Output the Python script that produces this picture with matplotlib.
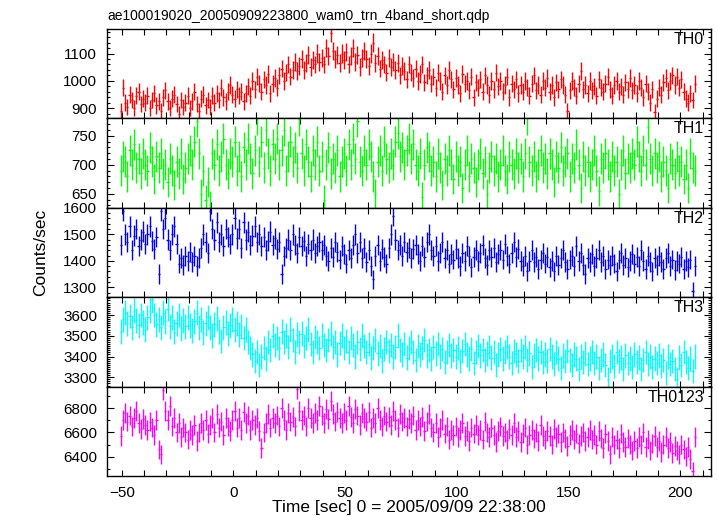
import numpy as np
import matplotlib
matplotlib.use('Agg')
import matplotlib.pyplot as plt
from matplotlib.ticker import MultipleLocator

plt.rcParams['font.family'] = ['Liberation Sans', 'DejaVu Sans']

title = 'ae100019020_20050909223800_wam0_trn_4band_short.qdp'
bands = ['TH0', 'TH1', 'TH2', 'TH3', 'TH0123']
colors = ['#ff0000', '#00ff00', '#0000ff', '#00ffff', '#ff00ff']

# 1 s bins, first bin centred at -50.5 s
t_start = -50.5
bin_width = 1.0

th0 = [
    890, 975, 920, 905, 950, 930, 900, 945, 960, 915,
    935, 920, 945, 900, 930, 955, 910, 925, 890, 940,
    965, 925, 900, 935, 950, 915, 880, 930, 905, 920,
    945, 900, 925, 960, 915, 890, 935, 950, 910, 930,
    905, 945, 920, 955, 930, 975, 940, 925, 960, 985,
    950, 935, 970, 945, 960, 925, 955, 980, 945, 1000,
    970, 1015, 990, 960, 1005, 985, 1025, 955, 990, 1010,
    975, 1020, 1045, 1000, 1030, 1060, 1015, 1040, 1070, 1035,
    1055, 1080, 1040, 1065, 1095, 1050, 1075, 1060, 1100, 1070,
    1085, 1060, 1120, 1090, 1175, 1110, 1080, 1095, 1065, 1100,
    1075, 1105, 1060, 1090, 1120, 1070, 1095, 1050, 1085, 1110,
    1080, 1055, 1100, 1140, 1065, 1090, 1045, 1075, 1060, 1030,
    1085, 1050, 1070, 1040, 1065, 1020, 1055, 1035, 1005, 1060,
    1030, 1010, 1045, 1000, 1025, 1060, 995, 1020, 1040, 990,
    1015, 975, 1030, 1000, 960, 1020, 985, 1040, 1005, 970,
    1010, 985, 955, 1025, 990, 1000, 965, 1015, 940, 995,
    975, 1005, 960, 1020, 985, 950, 1000, 970, 1030, 980,
    1000, 960, 985, 1015, 940, 990, 970, 1005, 955, 985,
    960, 1000, 975, 945, 990, 1020, 965, 985, 950, 1000,
    975, 1010, 960, 985, 940, 995, 970, 1005, 985, 950,
    890, 965, 1000, 975, 945, 990, 1035, 970, 985, 955,
    1000, 965, 980, 945, 1005, 975, 960, 990, 1015, 970,
    945, 985, 1000, 960, 980, 950, 995, 970, 1010, 965,
    985, 955, 1000, 975, 940, 990, 960, 920, 970, 885,
    935, 975, 950, 995, 1010, 965, 1000, 1020, 985, 1015,
    975, 1005, 960, 935, 920, 955, 930, 990,
]

th1 = [
    690, 715, 705, 680, 725, 700, 735, 695, 710, 685,
    720, 700, 690, 730, 705, 675, 715, 695, 720, 685,
    700, 670, 710, 690, 665, 705, 685, 720, 675, 695,
    710, 725, 700, 740, 775, 720, 650, 690, 640, 670,
    630, 720, 700, 735, 690, 715, 745, 700, 685, 720,
    705, 740, 690, 715, 680, 730, 700, 745, 710, 685,
    725, 780, 705, 740, 695, 760, 720, 690, 735, 710,
    745, 700, 725, 760, 690, 715, 740, 705, 730, 695,
    778, 720, 690, 735, 705, 680, 725, 700, 740, 690,
    715, 640, 700, 730, 685, 710, 695, 725, 680, 705,
    720, 690, 735, 700, 745, 710, 775, 705, 690, 725,
    700, 735, 715, 680, 650, 705, 725, 690, 740, 710,
    695, 720, 700, 740, 755, 715, 730, 700, 725, 745,
    710, 735, 700, 690, 720, 645, 700, 730, 715, 690,
    705, 680, 720, 695, 665, 710, 690, 725, 700, 675,
    715, 690, 705, 660, 700, 725, 680, 710, 695, 670,
    700, 720, 685, 705, 650, 695, 715, 690, 710, 680,
    700, 725, 690, 675, 715, 700, 685, 720, 695, 710,
    680, 720, 780, 705, 690, 715, 680, 700, 725, 695,
    710, 685, 720, 700, 670, 715, 695, 730, 690, 705,
    720, 680, 710, 695, 735, 700, 660, 715, 690, 705,
    680, 700, 725, 690, 655, 710, 695, 720, 700, 680,
    715, 690, 705, 650, 700, 725, 685, 710, 695, 720,
    700, 740, 715, 690, 725, 700, 765, 710, 690, 720,
    695, 715, 680, 705, 690, 660, 710, 700, 685, 715,
    690, 705, 675, 700, 660, 720, 695, 690,
]

th2 = [
    1460, 1590, 1500, 1470, 1530, 1440, 1495, 1520, 1455, 1480,
    1510, 1465, 1500, 1530, 1475, 1445, 1490, 1350, 1590, 1520,
    1560, 1480, 1440, 1500, 1530, 1465, 1390, 1410, 1385, 1420,
    1400, 1435, 1395, 1420, 1380, 1410, 1450, 1500, 1470, 1430,
    1590, 1520, 1480, 1545, 1470, 1500, 1455, 1520, 1490, 1465,
    1500, 1560, 1485, 1520, 1450, 1545, 1480, 1510, 1460, 1495,
    1530, 1470, 1500, 1455, 1490, 1440, 1475, 1510, 1460, 1485,
    1445, 1470, 1350, 1420, 1450, 1480, 1440, 1500, 1460, 1430,
    1490, 1455, 1475, 1420, 1465, 1440, 1480, 1430, 1455, 1470,
    1440, 1460, 1420, 1400, 1450, 1415, 1470, 1435, 1405, 1455,
    1425, 1390, 1440, 1410, 1460, 1500, 1430, 1470, 1410, 1450,
    1395, 1440, 1380, 1330, 1420, 1460, 1400, 1445, 1415, 1390,
    1450, 1500, 1570, 1480, 1440, 1460, 1420, 1470, 1435, 1450,
    1410, 1445, 1460, 1425, 1400, 1455, 1415, 1470, 1500, 1440,
    1420, 1455, 1400, 1430, 1470, 1410, 1440, 1390, 1425, 1405,
    1445, 1410, 1380, 1430, 1400, 1455, 1420, 1375, 1415, 1440,
    1400, 1430, 1460, 1410, 1385, 1440, 1415, 1450, 1395, 1425,
    1440, 1405, 1465, 1420, 1390, 1430, 1470, 1415, 1445, 1400,
    1380, 1420, 1360, 1400, 1440, 1395, 1415, 1370, 1405, 1430,
    1390, 1415, 1375, 1400, 1360, 1420, 1385, 1410, 1440, 1395,
    1370, 1405, 1420, 1380, 1455, 1400, 1430, 1385, 1350, 1410,
    1395, 1425, 1380, 1410, 1440, 1395, 1420, 1370, 1405, 1385,
    1420, 1390, 1360, 1405, 1430, 1385, 1410, 1375, 1400, 1425,
    1390, 1415, 1380, 1440, 1400, 1370, 1420, 1395, 1360, 1410,
    1385, 1420, 1395, 1370, 1410, 1430, 1380, 1405, 1365, 1400,
    1390, 1415, 1370, 1400, 1375, 1405, 1285, 1380,
]

th3 = [
    3520, 3580, 3610, 3560, 3595, 3540, 3620, 3575, 3550, 3600,
    3565, 3530, 3590, 3620, 3670, 3600, 3555, 3580, 3540, 3610,
    3570, 3630, 3545, 3590, 3520, 3560, 3600, 3535, 3575, 3545,
    3590, 3550, 3525, 3570, 3610, 3540, 3580, 3515, 3560, 3590,
    3540, 3500, 3555, 3585, 3520, 3475, 3540, 3565, 3510, 3550,
    3580, 3530, 3560, 3505, 3545, 3490, 3530, 3470, 3440, 3410,
    3380, 3420, 3360, 3400, 3440, 3390, 3470, 3430, 3500, 3455,
    3490, 3440, 3520, 3470, 3500, 3445, 3530, 3480, 3420, 3505,
    3470, 3510, 3450, 3490, 3530, 3460, 3420, 3495, 3470, 3440,
    3500, 3455, 3430, 3480, 3510, 3445, 3470, 3410, 3465, 3500,
    3440, 3475, 3420, 3490, 3455, 3400, 3470, 3435, 3500, 3450,
    3420, 3460, 3395, 3440, 3480, 3415, 3450, 3380, 3435, 3470,
    3425, 3455, 3400, 3445, 3500, 3430, 3410, 3460, 3395, 3440,
    3470, 3420, 3385, 3450, 3410, 3440, 3480, 3405, 3430, 3390,
    3445, 3415, 3460, 3400, 3435, 3375, 3420, 3455, 3405, 3430,
    3400, 3440, 3380, 3425, 3460, 3410, 3390, 3435, 3370, 3420,
    3450, 3405, 3430, 3385, 3415, 3445, 3395, 3420, 3360, 3410,
    3435, 3390, 3420, 3445, 3400, 3370, 3425, 3410, 3380, 3430,
    3400, 3445, 3385, 3415, 3350, 3405, 3430, 3390, 3420, 3375,
    3410, 3380, 3435, 3400, 3365, 3420, 3390, 3345, 3405, 3380,
    3425, 3385, 3360, 3410, 3390, 3340, 3400, 3375, 3415, 3365,
    3390, 3420, 3370, 3400, 3345, 3385, 3410, 3360, 3290, 3380,
    3400, 3355, 3420, 3380, 3395, 3340, 3405, 3370, 3390, 3350,
    3410, 3375, 3395, 3340, 3385, 3420, 3365, 3400, 3350, 3390,
    3370, 3405, 3355, 3385, 3320, 3400, 3365, 3380, 3340, 3290,
    3395, 3360, 3420, 3375, 3345, 3390, 3330, 3400,
]

th0123 = [
    6570, 6700, 6760, 6690, 6740, 6650, 6720, 6780, 6680, 6630,
    6710, 6660, 6620, 6690, 6640, 6580, 6700, 6460, 6420, 6950,
    6780, 6700, 6820, 6650, 6720, 6600, 6680, 6560, 6640, 6600,
    6540, 6620, 6580, 6660, 6530, 6600, 6680, 6620, 6700, 6590,
    6660, 6720, 6600, 6750, 6640, 6690, 6580, 6720, 6650, 6610,
    6700, 6780, 6640, 6720, 6620, 6770, 6680, 6740, 6620, 6700,
    6660, 6720, 6610, 6470, 6600, 6680, 6750, 6640, 6720, 6680,
    6740, 6650, 6800, 6700, 6620, 6760, 6690, 6730, 6650, 6960,
    6780, 6700, 6740, 6650, 6800, 6720, 6680, 6760, 6700, 6820,
    6740, 6680, 6790, 6710, 6860, 6750, 6690, 6770, 6720, 6680,
    6760, 6700, 6820, 6730, 6680, 6790, 6740, 6660, 6760, 6720,
    6690, 6770, 6640, 6720, 6680, 6800, 6700, 6650, 6740, 6690,
    6730, 6660, 6780, 6700, 6640, 6750, 6690, 6720, 6650, 6710,
    6680, 6740, 6620, 6700, 6650, 6730, 6610, 6690, 6750, 6640,
    6600, 6680, 6560, 6640, 6700, 6590, 6650, 6540, 6620, 6580,
    6650, 6560, 6620, 6680, 6570, 6610, 6530, 6640, 6590, 6660,
    6580, 6620, 6540, 6690, 6600, 6560, 6640, 6580, 6520, 6610,
    6650, 6570, 6600, 6540, 6630, 6580, 6680, 6560, 6610, 6520,
    6590, 6640, 6500, 6580, 6620, 6550, 6600, 6530, 6660, 6570,
    6540, 6610, 6570, 6500, 6630, 6560, 6590, 6520, 6600, 6550,
    6490, 6580, 6620, 6540, 6590, 6510, 6570, 6600, 6530, 6560,
    6620, 6540, 6580, 6500, 6610, 6550, 6470, 6590, 6530, 6420,
    6560, 6500, 6540, 6470, 6590, 6520, 6480, 6550, 6500, 6450,
    6530, 6470, 6560, 6500, 6600, 6480, 6540, 6450, 6510, 6570,
    6480, 6530, 6440, 6500, 6560, 6470, 6520, 6430, 6490, 6450,
    6420, 6500, 6460, 6400, 6480, 6380, 6280, 6560,
]

series = [th0, th1, th2, th3, th0123]
ylims = [(863, 1190), (626, 780), (1263, 1600.5), (3255, 3686), (6240, 6979)]
ymajor = [100, 50, 100, 100, 200]
yminor = [20, 10, 20, 10, 100]

fig, axes = plt.subplots(5, 1, sharex=True, figsize=(7.17, 5.16), dpi=100,
                         gridspec_kw={'hspace': 0})
fig.subplots_adjust(left=0.149, right=0.992, top=0.944, bottom=0.0775)

for ax, name, col, vals, yl, ymaj, ymin in zip(axes, bands, colors, series,
                                               ylims, ymajor, yminor):
    vals = np.array(vals, dtype=float)
    t = t_start + bin_width * np.arange(len(vals))
    # poisson errors for 1 s bins
    ax.errorbar(t, vals, xerr=bin_width / 2, yerr=np.sqrt(vals), fmt='none',
                ecolor=col, elinewidth=1.0, capsize=0)

    ax.set_ylim(yl)
    ax.set_xlim(-56.7, 213.9)
    ax.yaxis.set_major_locator(MultipleLocator(ymaj))
    ax.yaxis.set_minor_locator(MultipleLocator(ymin))
    ax.xaxis.set_major_locator(MultipleLocator(50))
    ax.xaxis.set_minor_locator(MultipleLocator(10))

    ax.tick_params(which='both', direction='in', top=True, right=True,
                   width=0.8, labelsize=11, pad=7)
    ax.tick_params(axis='y', which='major', length=5)
    ax.tick_params(axis='y', which='minor', length=2.5)
    ax.tick_params(axis='x', which='both', length=4.5)
    for sp in ax.spines.values():
        sp.set_linewidth(1.0)

    ax.text(0.988, 0.965, name, transform=ax.transAxes, ha='right', va='top',
            fontsize=11.5)

axes[-1].set_xlabel('Time [sec] 0 = 2005/09/09 22:38:00', fontsize=12.5,
                    labelpad=0)
fig.text(41 / 717, 1 - 252 / 516, 'Counts/sec', rotation=90, ha='center',
         va='center', fontsize=12.5)
fig.text(107 / 717, 1 - 20 / 516, title, ha='left', va='baseline', fontsize=10)

fig.savefig('out.png', dpi=100)
